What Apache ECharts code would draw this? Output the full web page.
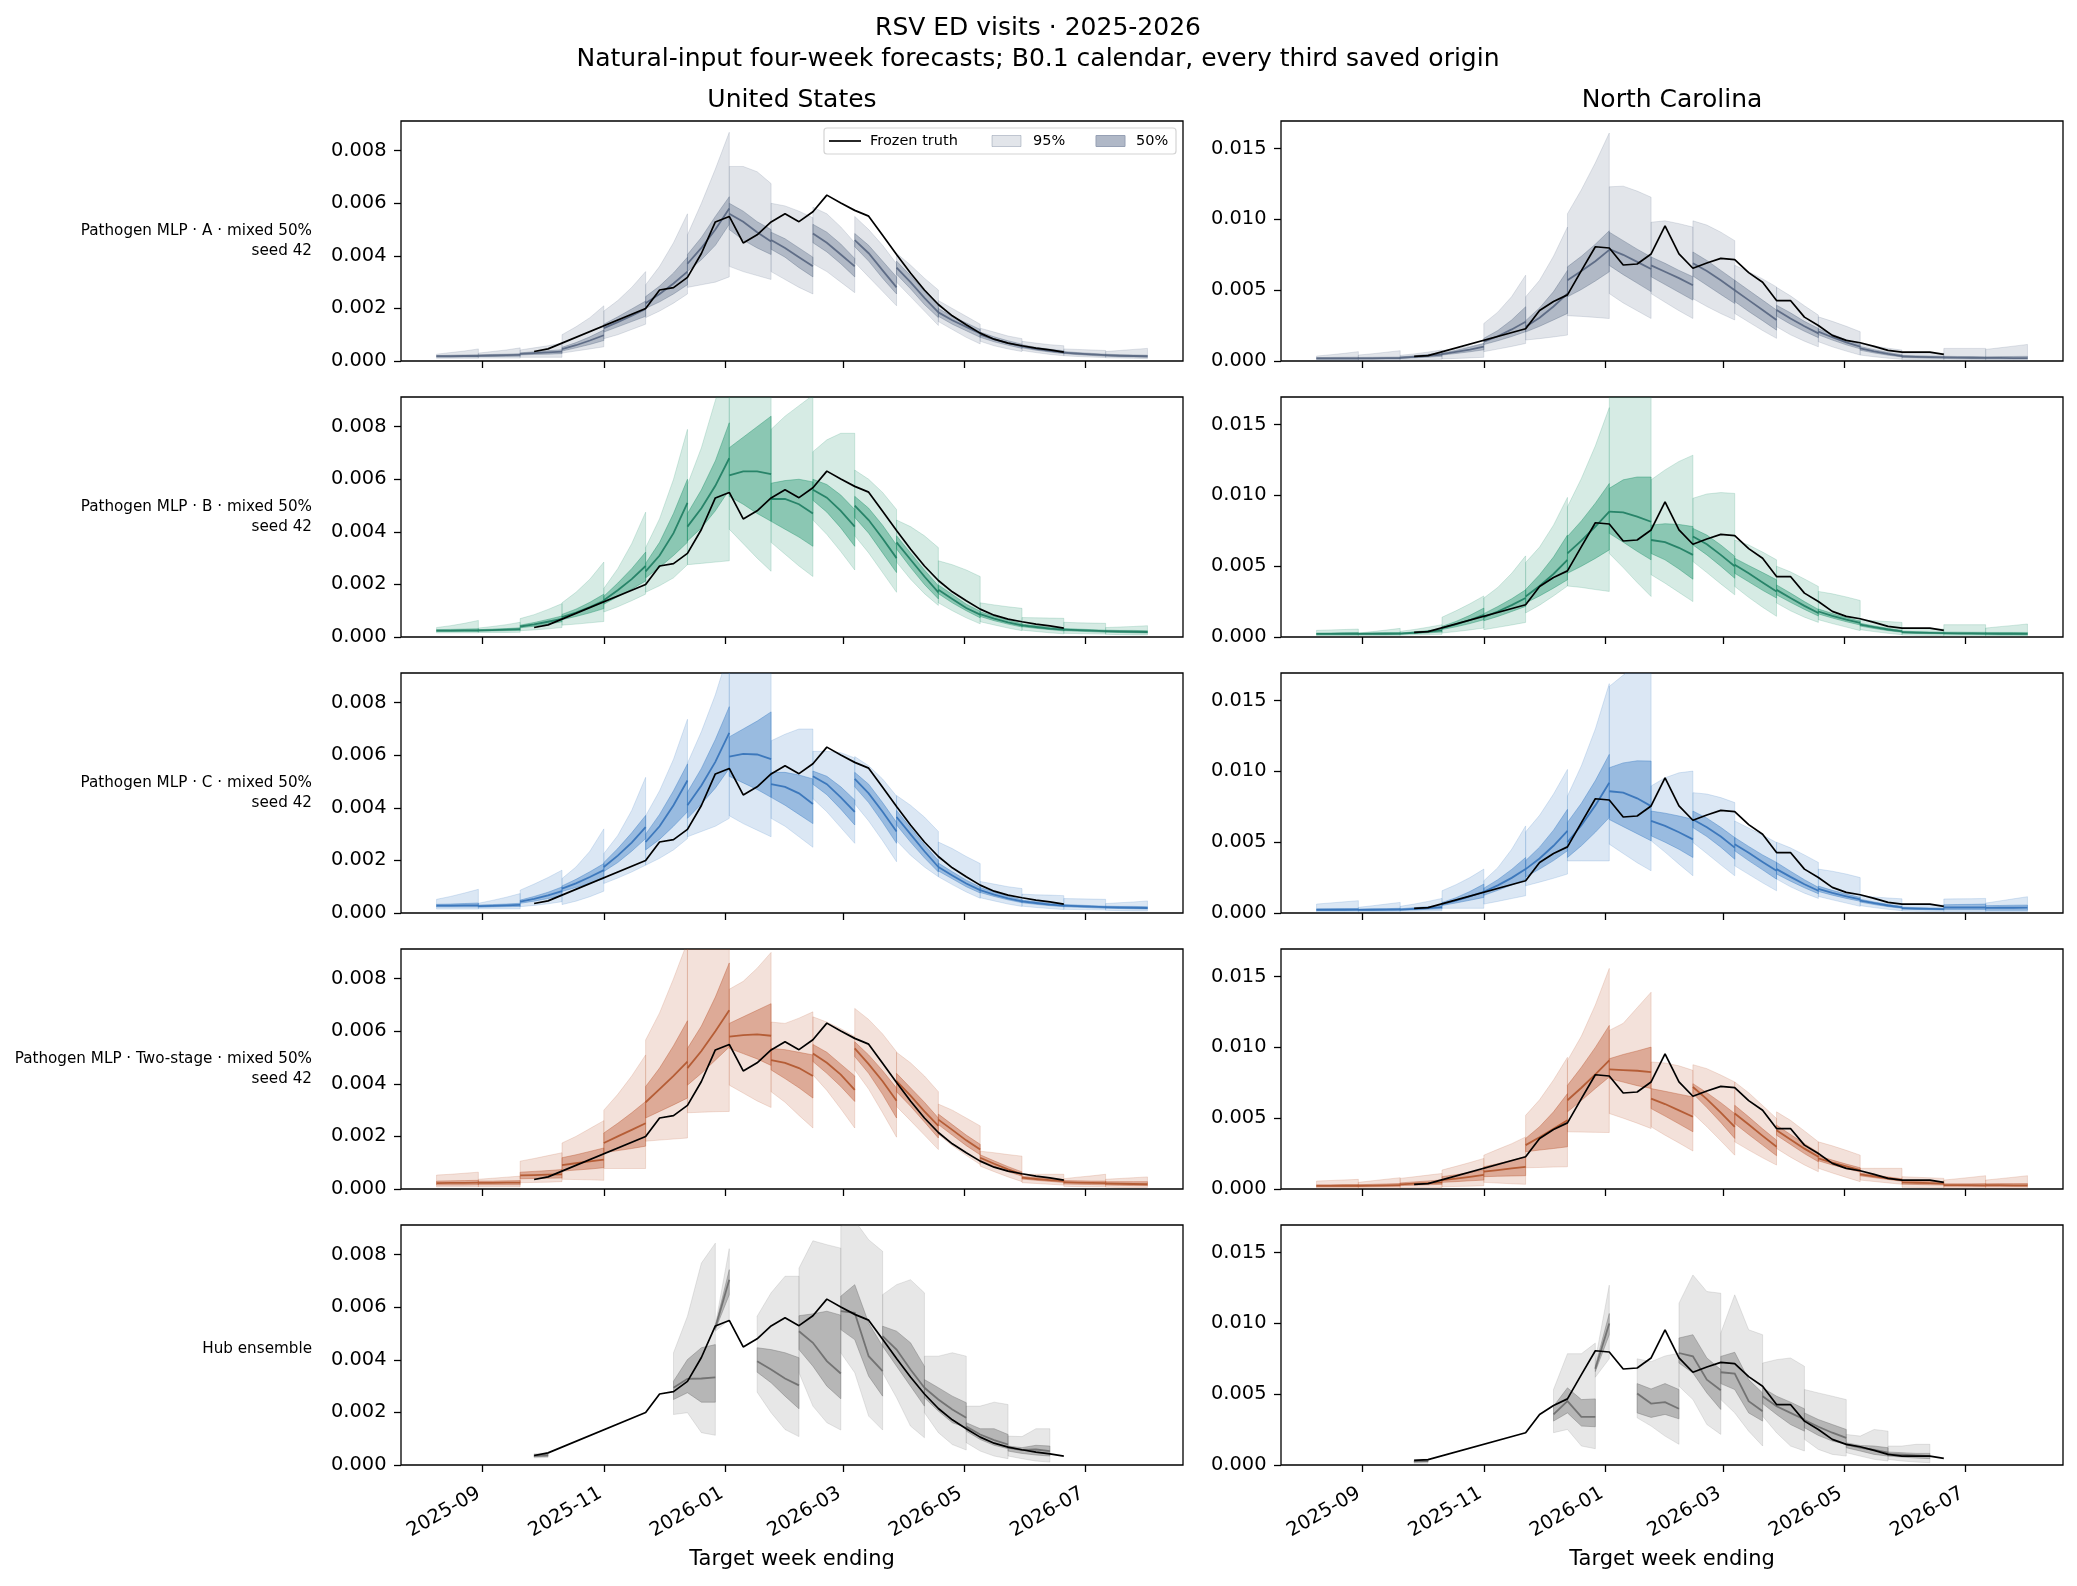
<!DOCTYPE html>
<html>
<head>
<meta charset="utf-8">
<title>RSV ED visits · 2025-2026</title>
<script src="https://cdn.jsdelivr.net/npm/echarts@6/dist/echarts.min.js"></script>
<style>
  html, body { margin: 0; padding: 0; background: #fff; }
  #chart { width: 2077px; height: 1586px; }
</style>
</head>
<body>
<div id="chart"></div>
<script>
// values are stored in units of 1e-4 (rate per visit), the y labels convert back

// week 0 of the forecast calendar (a Saturday)
const calendarStart = '2025-08-09';
const xTickLabels = ['2025-09', '2025-11', '2026-01', '2026-03', '2026-05', '2026-07'];
const usTicks = [0, 20, 40, 60, 80];
const ncTicks = [0, 50, 100, 150];
const usMax = 91.3;
const ncMax = 169.5;

// frozen truth
const truthWeeks = [7, 8, 15, 16, 17, 18, 19, 20, 21, 22, 23, 24, 25, 26, 27, 28, 29, 30, 31, 32, 33,
  34, 35, 36, 37, 38, 39, 40, 41, 42, 43, 44, 45];
const usTruth = [3.6, 4.6, 20, 27, 27.9, 31.8, 40.9, 52.9, 55, 44.9, 48, 52.9, 56, 53, 56.8, 63.1, 60.1,
  57.3, 55.1, 47.8, 40.5, 33.5, 27, 21.5, 17.2, 13.8, 10.6, 8.3, 6.8, 5.8, 4.9, 4.2, 3.4];
const ncTruth = [3.3, 3.8, 22.8, 35.7, 42, 46.7, 63.8, 80.7, 79.8, 67.8, 68.5, 75.6, 95.5, 75.6, 65.5, 69.2,
  72.5, 71.6, 62.4, 55.6, 42.7, 42.7, 31, 25.1, 18.1, 14.6, 12.9, 10.3, 7.5, 6.3, 6.3, 6.3, 4.7];

// forecast origins (week index) and number of target weeks per forecast
const modelOrigins = [0, 3, 6, 9, 12, 15, 18, 21, 24, 27, 30, 33, 36, 39, 42, 45, 48];
const modelSteps = [4, 4, 4, 4, 4, 4, 4, 4, 4, 4, 4, 4, 4, 4, 4, 4, 4];
const hubOrigins = [7, 17, 20, 23, 26, 29, 32, 35, 38, 41];
const hubSteps = [2, 4, 2, 4, 4, 4, 4, 4, 4, 4];

// ---- United States, model A
const usA_med = [1.8,1.8,1.9,1.9, 2.0,2.1,2.2,2.3, 2.7,3.0,3.3,3.6, 4.5,6.0,7.8,9.8, 12.5,14.8,17.2,19.8,
  22,25.5,29.5,34, 37,43,50,58, 56,53,49,45.5, 46,43,39.5,36, 48.5,45,40.5,36, 46,41,34.5,28,
  35.5,30,24,18.5, 18.5,15.5,13,10.5, 10,8.2,6.8,5.6, 5.6,4.6,3.9,3.3, 3.2,2.8,2.5,2.2, 2.2,2.0,1.9,1.8];
const usA_lo50 = [1.5,1.5,1.5,1.5, 1.7,1.7,1.7,1.8, 2.3,2.5,2.6,2.8, 3.8,5.0,6.3,7.8, 11,13,15,17,
  20,22.5,25.5,29, 34,38.5,44,52, 50,46,43,40.5, 42.5,39.5,35.5,32, 45,41.5,37,32, 43.5,38,31.5,25.5,
  33,27.5,21.5,16.5, 17,14,11.5,9, 9,7.3,6,4.8, 5,4.1,3.4,2.8, 2.8,2.4,2.1,1.8, 1.8,1.6,1.5,1.4];
const usA_hi50 = [2.1,2.2,2.3,2.4, 2.3,2.5,2.6,2.8, 3.1,3.5,3.9,4.3, 5.2,7.0,9.2,11.8, 14,16.8,19.8,22.8,
  24.5,28.5,33.5,39.5, 40.5,47,55,62.5, 60,57,53,50, 49,46.5,43,39.5, 52,49,44.5,39, 48.5,44,38,32,
  38,32.5,26.5,21, 20,17,14.5,12, 11,9.2,7.7,6.4, 6.2,5.2,4.5,3.9, 3.6,3.2,2.9,2.6, 2.6,2.4,2.3,2.2];
const usA_lo95 = [1.0,1.0,1.0,1.0, 1.1,1.1,1.1,1.1, 1.4,1.4,1.4,1.4, 3,3.8,4.6,5.4, 8.5,10,12,14,
  16.5,19,22,25.5, 28,29,30,32, 36,34,32.5,31, 34,31,28,25.5, 37,34,30,26, 37.5,32,26.5,21,
  30,24.5,19,13.5, 15,12,9,6.5, 7.5,5.8,4.6,3.6, 4,3.2,2.5,2, 2,1.7,1.5,1.3, 1.2,1.1,1.0,0.9];
const usA_hi95 = [2.6,3.2,3.8,4.6, 3.0,3.6,4.2,5.0, 4.2,5.0,5.8,6.8, 10,13,16.5,21, 19,23,28,34,
  29,36,45,56, 48,60,73,87, 74,74,72,67.5, 60,59,57,54.5, 58.5,56,51,45, 55,50,44,37,
  41,36.5,31.5,27, 23,20,17,14, 12.5,11,9.5,8.5, 7.5,6.8,6.2,5.8, 4.6,4.4,4.2,4.0, 3.6,4.0,4.4,4.8];

// ---- United States, model B
const usB_med = [2.4,2.4,2.5,2.5, 2.5,2.6,2.8,3.0, 4.0,4.8,5.8,6.9, 7.6,9.3,11.4,13.8, 14,17.8,22,27,
  25,31,39.5,51, 42,49,57.5,68, 61.5,63,63,62, 52.5,52.5,50.5,47, 56,53,48,42, 50,44.5,37.5,30,
  36,29.5,23,17, 18,14.5,11,8.5, 8.7,7,5.6,4.4, 4.4,3.8,3.2,2.8, 2.8,2.6,2.4,2.2, 2.2,2.1,2.0,1.9];
const usB_lo50 = [2.1,2.1,2.1,2.1, 2.2,2.3,2.4,2.5, 3.5,4.1,4.9,5.8, 6.6,7.8,9.2,10.8, 12.5,15.3,18.2,21.3,
  22.5,26.5,31,36, 36.5,41.5,48,56, 53.5,50.5,47,44, 44,41,38,34.5, 52,47.5,41.5,34.5, 45.5,39.5,32,24.5,
  33.5,26.5,20,14.5, 16.5,13,10,7.3, 7.8,6.2,4.9,3.8, 3.9,3.3,2.8,2.3, 2.4,2.2,2.0,1.8, 1.8,1.7,1.6,1.5];
const usB_hi50 = [2.8,2.9,3.0,3.1, 2.8,3.0,3.2,3.5, 4.5,5.5,6.7,8.0, 8.6,10.6,13.2,16.3, 15.5,20.5,26,32.3,
  28,36,47,60, 47,56,67,81.5, 72,76,80,84, 58.5,59.5,60,59, 60,58,54,48.5, 53.5,49,42.5,35,
  38.5,32,25.5,19.5, 19.8,16.2,12.5,9.8, 9.6,7.9,6.4,5.1, 4.9,4.3,3.7,3.3, 3.2,3.0,2.8,2.6, 2.6,2.5,2.5,2.4];
const usB_lo95 = [1.6,1.6,1.6,1.6, 1.7,1.7,1.7,1.8, 2.4,2.7,3.1,3.6, 4.5,4.9,5.4,5.9, 9.5,11.5,13.8,16.3,
  17,19.5,22.5,27.5, 27.5,28,28.5,29, 41,35.5,30,25, 36,31.5,27,23, 44.5,39,32.5,25.5, 38.5,32,24.5,17,
  28.5,22,16.5,12, 13,10,7.3,5, 5.8,4.6,3.4,2.4, 2.6,2.1,1.6,1.2, 1.4,1.3,1.2,1.1, 1.0,0.9,0.8,0.8];
const usB_hi95 = [3.6,4.3,5.2,6.3, 3.4,4.0,4.7,5.6, 7,8.5,10.5,12.7, 13,17,22,28.5, 18.5,26,35.5,47.5,
  34,45,60,79, 58,72,90,108, 100,106,112,118, 79,84,88,92, 70.5,75,77.5,77.5, 63.5,60,55,48.5,
  44.5,42,38.5,34, 29,27.5,25.5,23, 13,12.2,11.5,10.9, 7.4,7.3,7.2,7.1, 5.6,5.4,5.3,5.2, 3.6,3.8,4.0,4.3];

// ---- United States, model C
const usC_med = [2.8,2.8,2.9,2.9, 2.6,2.7,2.9,3.1, 4.3,5.4,6.7,8.3, 9.3,11.3,13.7,16.3, 17.5,21.8,26.8,32.7,
  27,33,41,50.4, 41,48.5,57.5,68.5, 59.5,60.5,60.3,58.5, 49,48,45.5,41.5, 52,49,44,38.5, 51,45.5,38.5,31,
  36.5,30,23.5,17.5, 17.5,14.3,11.2,8.7, 8.7,7,5.6,4.4, 4.4,3.8,3.2,2.8, 2.8,2.6,2.4,2.2, 2.2,2.1,2.0,1.9];
const usC_lo50 = [2.3,2.3,2.3,2.3, 2.2,2.3,2.4,2.5, 3.7,4.5,5.5,6.6, 8.2,9.7,11.3,13.1, 15.8,19.2,23.5,28.3,
  24,28,33,38.5, 36,41.5,47.5,55, 52,49.5,47,44, 44,41,37.5,34, 49,45,39.5,33.5, 48,42,34.5,26.5,
  33.5,27,21,15.6, 16,13,10,7.6, 7.8,6.3,5,3.9, 3.9,3.3,2.8,2.4, 2.4,2.2,2.0,1.8, 1.8,1.7,1.6,1.5];
const usC_hi50 = [3.3,3.4,3.6,3.8, 3.0,3.2,3.4,3.7, 4.9,6.3,7.9,9.9, 10.3,12.8,15.7,18.8, 19.2,24.5,30.5,37.1,
  30,37.5,46.5,56.7, 46,55,66,78.5, 67,70,73,76.5, 53.5,53.5,52.5,51, 54,52,48,43, 53.5,49,42,34.5,
  39,32.5,26,20, 19,15.7,12.5,9.9, 9.7,8,6.4,5.1, 4.9,4.3,3.7,3.3, 3.2,3.0,2.8,2.6, 2.6,2.5,2.5,2.4];
const usC_lo95 = [1.5,1.5,1.5,1.5, 1.6,1.6,1.6,1.6, 2.4,2.9,3.5,4.3, 3.2,4.5,6.2,8.3, 11.2,13.3,15.6,18.2,
  18.2,20.8,24,28.3, 29,31,33,36, 37,34,31.5,29, 36,33,29,25, 43.5,38.5,32.5,26.5, 41.5,35,27.5,19.5,
  27.5,22,17.5,13.8, 13.8,10.8,8,5.6, 5.8,4.6,3.4,2.5, 2.6,2.1,1.7,1.3, 1.4,1.3,1.2,1.1, 1.0,0.9,0.8,0.8];
const usC_hi95 = [5.2,6.3,7.6,9.0, 3.7,4.8,6,7.4, 8.7,11,13.5,16.3, 13.1,17.5,23.5,32, 22.6,29.5,39,51.6,
  37,46.5,58.5,73.7, 57,69,83,100, 95,100,104,108, 65.5,68,70,70, 61.5,61.5,61,59, 59.5,56,51,44.5,
  44.7,41,36.5,31, 27,24.5,21.5,18.8, 12,11,10,9.3, 7.2,6.9,6.8,6.6, 5.5,5.4,5.3,5.2, 3.6,3.9,4.2,4.6];

// ---- United States, two-stage model
const usT_med = [2.2,2.3,2.3,2.4, 2.3,2.3,2.4,2.4, 5.2,5.3,5.5,5.6, 9.1,9.8,10.5,11.2, 17.5,20,22.5,25,
  33,38,43,48.5, 46,52.5,60,68, 58,58.5,58.8,58.3, 49,48,46,43, 51.5,48,43.5,37.7, 53.5,47.5,41,33.6,
  41,35.5,29.5,24, 26.4,22.5,18.5,15, 11.9,9.6,7.5,5.6, 4.3,3.8,3.4,3.0, 2.6,2.4,2.3,2.2, 2.1,2.0,1.9,1.8];
const usT_lo50 = [1.5,1.5,1.5,1.6, 1.6,1.6,1.6,1.6, 3.9,4.0,4.1,4.2, 6.8,7.2,7.6,8.1, 13.8,14.6,15.4,16.3,
  27,29.5,32,34.6, 39.5,44,49,54, 53.5,51.5,49.5,47, 45.3,42,38.5,34.6, 48.5,44,39,33.3, 50.4,44,36,27,
  37,31.5,25.5,19.4, 24.5,20.5,16.5,13, 10.8,8.6,6.6,4.9, 3.8,3.3,2.9,2.5, 1.9,1.8,1.7,1.6, 1.5,1.4,1.3,1.3];
const usT_hi50 = [3.0,3.1,3.2,3.3, 3.0,3.0,3.1,3.2, 6.4,6.7,7.0,7.4, 11.9,13,14.3,15.6, 21.3,25,29,33.3,
  39,46,54.5,64, 53.5,62,73,86, 63,65.5,68,70.5, 53.5,53,52,51, 55,52,47.5,43, 56,51,45,38.4,
  44,38.5,33,27, 28.5,24.5,20.5,17, 13,10.7,8.5,6.5, 4.8,4.4,4.0,3.6, 3.2,3.1,3.0,3.0, 2.8,2.8,2.8,2.8];
const usT_lo95 = [0.8,0.8,0.8,0.8, 0.8,0.8,0.8,0.8, 2.4,2.5,2.6,2.8, 3.7,3.6,3.5,3.3, 7.8,7.8,7.8,7.8,
  18.2,18.6,19,19.4, 29,29.2,29.4,29.5, 39.5,36.5,33.5,31, 37,33,28,23.2, 43.4,37.5,30.5,23.2, 45.3,38,29,19.7,
  31.4,26,20.5,15, 20.7,16.5,12.8,9.3, 8.7,6.6,4.6,2.8, 2.4,2.1,1.8,1.5, 1.0,0.9,0.8,0.8, 0.7,0.6,0.6,0.6];
const usT_hi95 = [5.3,5.6,6.0,6.4, 3.7,4.1,4.5,4.9, 10.6,11.6,12.7,13.8, 17.5,20,23,26, 30,36,43,51,
  56.7,67,80,94, 91,95,100,105, 76,79,84,90, 63.5,63,65,67.4, 65.5,63.5,61,58, 68.7,64.5,59,52.2,
  52,48,43,37, 32.3,30,27,24, 14.4,13.8,13.1,12.5, 5.6,5.6,5.6,5.6, 3.9,4.5,5.0,5.6, 3.7,4.0,4.3,4.6];

// ---- United States, hub ensemble
const usH_med = [3.5,3.7, 29.4,32.8,32.9,33.3, 52.2,70.5, 39.5,36.3,32.9,30.3, 50.9,46.5,39.5,34.8,
  58.5,57.9,41.4,35.7, 49.0,43.9,36.3,29.4, 29.4,24.9,21.1,18, 14.6,11.6,9.5,7.8, 6.6,5.7,5.9,5.3];
const usH_lo50 = [3.1,3.3, 24.9,27.5,23.9,23.9, 51.5,64.8, 35.3,31.3,26.2,21.4, 43.9,37.6,30,25.2,
  51.5,47.7,33.8,26.2, 45.2,37.6,30.0,22.4, 25.6,20.5,16.1,14.2, 12.9,9.7,7.5,6.2, 5.3,4.4,3.8,3.4];
const usH_hi50 = [3.9,4.1, 31.9,40.1,44.6,45.8, 52.8,74.3, 44.6,43.9,42.7,40.8, 56.8,57.5,58.5,57,
  64.2,68.6,54,45.2, 52.8,50.9,46.5,37.6, 32.5,29.4,26.2,23.7, 16.1,13.8,13.8,11.6, 7.2,6.6,7.5,7.2];
const usH_lo95 = [2.7,2.9, 19.2,19.9,12.3,11.3, 50.9,55.3, 27.7,19.9,13.5,10.8, 35.1,22.4,16.1,13.3,
  42.7,35.1,18.6,13.3, 35.1,25.6,14.8,10.4, 19.9,12.3,7.8,5.7, 8.5,5.3,3.4,2.4, 3.4,2.4,1.5,1.1];
const usH_hi95 = [4.3,4.6, 42.7,56.6,76.8,84.4, 53.4,82.3, 56.6,65.5,71.8,71.8, 74.9,85.3,83.8,82.5,
  90.8,93,85.7,81.3, 64.8,68.6,70.5,65.5, 41.4,41.4,42.7,41.4, 22.4,22.4,23.9,23, 11,10.8,13.8,13.8];

// ---- North Carolina, model A
const ncA_med = [1.8,1.8,1.9,1.9, 1.9,1.9,2.0,2.0, 2.3,2.9,3.7,4.6, 4.9,6.4,8.1,10.1, 13.6,17.5,22.3,27.7,
  24.2,30.5,38.5,47.6, 57,63.5,70.5,78.5, 79,75,70,65, 67.5,63,58.5,53.5, 69,63.5,57,50, 50,43,36,29,
  36,30,24.5,19.5, 20.7,16.8,13.2,10.1, 8.9,6.8,5,3.5, 3.2,2.9,2.7,2.5, 2.5,2.4,2.3,2.2, 2.2,2.2,2.1,2.1];
const ncA_lo50 = [1.3,1.3,1.3,1.3, 1.4,1.4,1.4,1.4, 1.8,2.2,2.7,3.3, 4.2,5.3,6.5,7.9, 11.6,14.3,17.3,20.7,
  20.5,24.5,29,33.6, 45.3,50.5,56.5,63, 67.5,61,55,49, 59.5,54,48.5,43, 60,53.5,47,40.6, 42,35,28.5,21.8,
  31.7,26,21,16.5, 18.5,14.8,11.4,8.6, 7.6,5.7,4.1,2.8, 2.4,2.2,2.0,1.9, 1.8,1.7,1.6,1.5, 1.5,1.5,1.4,1.4];
const ncA_hi50 = [2.4,2.5,2.6,2.7, 2.5,2.6,2.7,2.8, 2.9,3.7,4.7,5.9, 5.7,7.5,9.8,12.4, 16,21.5,29,38.3,
  28.5,37.5,49,64, 66.5,74,82.5,92, 91,85,79,73.5, 73.5,69,64,59.5, 77,71,64,57, 57,50,43,36,
  39.4,34,28,23, 22.8,18.8,15,11.7, 10.2,8,6,4.4, 4.0,3.7,3.5,3.3, 3.3,3.2,3.1,3.0, 3.0,3.1,3.2,3.3];
const ncA_lo95 = [0.6,0.6,0.6,0.6, 0.6,0.6,0.6,0.6, 0.9,1.0,1.1,1.3, 1.5,1.8,2.2,2.6, 6.6,8.4,10.3,12.4,
  14.8,15.8,17,18.3, 32,31.5,30.8,30, 47.6,41,35.5,30, 47.6,41.5,35.5,30, 44,38.5,33.5,29, 33.6,27.5,21.5,16,
  24.2,18.5,14,10, 13.6,10,7,4.2, 4.2,3,2,1.2, 1.0,0.9,0.8,0.8, 0.8,0.7,0.7,0.7, 0.6,0.6,0.6,0.6];
const ncA_hi95 = [3.5,4.4,5.4,6.6, 4.2,5.1,6.2,7.3, 4.0,5.0,6.3,7.8, 7.3,8.8,10.5,12.4, 26.5,34.5,45.5,60.6,
  45.3,57,74,94.6, 104,121,140,161, 123,123.5,120,115.7, 98,99,97,94.6, 99,96,91,85, 67.6,63,58,52.3,
  52,46,39,32.4, 31.2,28,24.5,20.7, 12.4,10.6,9,7.7, 5.4,5.4,5.4,5.4, 8.9,8.9,8.9,8.9, 8.2,9.3,10.5,11.7];

// ---- North Carolina, model B
const ncB_med = [2.2,2.2,2.3,2.3, 2.2,2.3,2.3,2.4, 2.4,3.0,3.8,4.7, 6.3,8.9,12,15.7, 14,18,22.5,27.5,
  28.6,36,44.5,54.5, 59,68,78,88.5, 88.5,88,85,81.4, 68.5,67,63,58, 71,65.5,58,50, 51,45,38.5,32.2,
  33.3,27.5,22,16.9, 18,15,12.3,9.9, 8.7,6.9,5.3,4.0, 3.4,3.1,2.9,2.7, 2.7,2.6,2.5,2.4, 2.4,2.3,2.3,2.2];
const ncB_lo50 = [1.6,1.6,1.6,1.6, 1.7,1.7,1.7,1.8, 2.0,2.4,2.9,3.5, 5.3,7.2,9.5,12.2, 11.5,14.5,18,21.6,
  24,29,34.5,40.4, 45,50,55.5,61.5, 73.2,67,60.5,54.5, 59,54.5,48,40.8, 65,58,50,41.5, 45,39,33,27.5,
  29.8,24.5,19.5,14.8, 16.3,13.4,10.8,8.5, 7.7,6.0,4.5,3.3, 2.7,2.5,2.3,2.1, 2.0,1.9,1.8,1.7, 1.7,1.6,1.6,1.5];
const ncB_hi50 = [2.8,2.9,3.0,3.1, 2.8,2.9,3.1,3.2, 2.9,3.6,4.6,5.8, 7.5,11,15.3,20.4, 16.5,21.5,27,33.3,
  33.5,44,56.5,72, 71,82,94.5,108.4, 105,111,113,113, 79,80,79.5,78, 76.7,72,65,57, 55.6,50.5,45.5,40.4,
  36.8,31,25,19.5, 19.8,16.6,13.7,11.3, 9.7,7.8,6.1,4.7, 4.1,3.8,3.6,3.4, 3.4,3.4,3.3,3.3, 3.2,3.2,3.2,3.2];
const ncB_lo95 = [0.9,0.9,0.9,0.9, 1.0,1.0,1.0,1.0, 1.3,1.5,1.7,1.9, 2.8,3.8,5,6.3, 5.2,6.8,8.5,10.3,
  17,22.5,29,36, 36,35,33.5,32.2, 59,49,38.5,28.6, 44,38,31.5,25, 53.3,45.5,37.5,29.8, 35.7,28,21,14.6,
  24,18.5,14,10.3, 12.2,9.5,7,4.5, 5.2,3.8,2.6,1.6, 1.4,1.2,1.1,1.0, 0.8,0.8,0.8,0.8, 0.7,0.7,0.7,0.7];
const ncB_hi95 = [4.7,5.0,5.3,5.6, 2.8,3.8,4.9,6.1, 4.0,5.3,6.9,8.7, 14,18.5,23.5,29, 27.5,35,45,57.3,
  52.6,63.5,79,98.6, 92,112,135,162, 175,185,190,195, 111,118,124,128.4, 98,101,102,101.4, 68.5,65,60,54.5,
  50,46,41,35.7, 32.2,30.5,28.3,25.8, 12.2,11.5,10.9,10.3, 6.3,6.1,5.8,5.6, 8.7,8.7,8.7,8.7, 6.3,7.3,8.2,9.2];

// ---- North Carolina, model C
const ncC_med = [2.3,2.3,2.3,2.4, 2.2,2.3,2.4,2.5, 2.4,2.9,3.5,4.2, 6.3,8.8,11.7,15, 15,19.5,24.8,31,
  31,38.5,47.5,58, 50,62,76,92, 86,85,81,75.5, 65,61.5,57,52, 66,60.5,54,46.2, 48.6,42.5,36,29.8,
  31,25.5,20.3,15.7, 17,14.2,11.8,9.6, 8.7,6.9,5.3,4.0, 3.4,3.1,2.9,2.7, 3.9,3.9,3.9,3.9, 3.6,3.7,3.7,3.8];
const ncC_lo50 = [1.7,1.7,1.7,1.7, 1.7,1.7,1.7,1.8, 1.9,2.2,2.6,3.0, 5.3,7.1,9,11, 12.5,16,19.8,23.9,
  25.5,31,37,43.9, 39.2,47.5,57,67.4, 66,61,56,51, 54.5,50,45,39.2, 60.3,54,46.5,38, 43.9,37,30.5,23.9,
  27.5,22.5,17.8,13.6, 15.2,12.6,10.3,8.3, 7.7,6.0,4.5,3.3, 2.7,2.5,2.3,2.1, 2.3,2.3,2.3,2.3, 1.9,1.9,1.9,1.9];
const ncC_hi50 = [2.9,3.0,3.1,3.2, 2.8,3.0,3.1,3.3, 3.0,3.7,4.5,5.5, 7.4,10.8,15.2,20.4, 17.5,23.5,30.8,39.2,
  37,46.5,58.5,73.2, 64,77.5,93.5,112, 102.6,106,107.5,107.3, 72,70.5,68.5,66.2, 72,67,60.5,53.3, 53.3,47,41,35.7,
  35.7,29.5,23.5,18.1, 19,16,13.4,11, 9.7,7.8,6.1,4.7, 4.1,3.8,3.6,3.4, 5.8,6.0,6.1,6.3, 5.2,5.3,5.5,5.6];
const ncC_lo95 = [0.8,0.8,0.8,0.8, 0.9,0.9,0.9,0.9, 1.2,1.3,1.4,1.6, 3.3,3.3,3.3,3.3, 6.3,8.2,10.2,12.2,
  19.2,21.8,24.5,27.5, 36.8,36.8,36.8,36.8, 48.6,42,35.5,29.8, 51,43,34.5,26.3, 49.8,42,34,26.3, 33.3,27.3,21.3,15.7,
  24,18.5,14,10.3, 11.7,9.3,7,4.7, 5.2,3.8,2.6,1.6, 1.4,1.2,1.1,1.0, 0.9,0.9,0.9,0.9, 0.9,0.9,0.9,0.9];
const ncC_hi95 = [6.3,7.1,7.9,8.7, 4.0,5.1,6.3,7.5, 4.7,6.3,8.2,10.3, 15.7,20,25,31, 22.8,32,45,61.5,
  57.3,69,84,101.4, 82.6,104,130,162, 160,168,175,180, 89.7,95.5,99,100.2, 85,84,81.5,78, 65,60,55,49.8,
  50,46,41,35.7, 31,29.5,27.5,25, 12.2,11.3,10.6,10, 6.3,6.1,5.8,5.6, 9.9,10,10.1,10.3, 7.0,8.5,10,11.5];

// ---- North Carolina, two-stage model
const ncT_med = [2.2,2.2,2.3,2.3, 2.3,2.4,2.6,2.8, 3.3,3.8,4.2,4.7, 6.3,7.4,8.6,9.9, 12.2,13.4,14.5,15.7,
  31,36.5,42.5,48.6, 62.7,71.5,81,90.8, 84.5,84,83.5,82.6, 63.8,60,55.5,51, 72,63.5,54,43.9, 53.3,45.5,37.5,29.8,
  41.5,35,28.5,22.8, 21.6,18.6,15.9,13.4, 10.3,8.9,7.6,6.3, 4.7,4.4,4.1,3.8, 2.8,2.7,2.7,2.6, 2.7,2.7,2.6,2.6];
const ncT_lo50 = [1.5,1.5,1.5,1.5, 1.6,1.7,1.8,1.9, 2.4,2.7,3.0,3.3, 4.7,5.2,5.8,6.3, 8.7,9,9.2,9.4,
  26.3,27.5,28.6,29.8, 54.5,62.5,71,79.1, 78,75.5,73,71, 56.8,51.5,46,40.4, 67.4,57.5,47,35.7, 46.2,38.5,31,23.5,
  38,31.5,25,19.2, 19.9,17,14.4,12, 9.3,8,6.7,5.5, 3.4,3.2,3.0,2.8, 1.9,1.9,1.8,1.8, 1.8,1.8,1.8,1.8];
const ncT_hi50 = [3.0,3.0,3.1,3.1, 3.0,3.3,3.6,3.9, 4.3,5.0,5.7,6.4, 8.7,10.1,11.7,13.4, 15.7,17.9,20.3,22.8,
  35.7,44,54.5,67.4, 73.2,86,100,115.5, 92,95,97.5,100.2, 70.9,69,67,65, 74.4,68,61,53.3, 59.1,51,42.5,34.5,
  45.1,38.5,32,25.8, 23.4,20.4,17.6,15, 11.3,9.9,8.5,7.2, 5.9,5.6,5.3,5.0, 3.7,3.7,3.7,3.8, 3.7,3.8,3.8,3.9];
const ncT_lo95 = [0.6,0.6,0.6,0.6, 0.7,0.7,0.7,0.7, 1.0,1.0,1.1,1.1, 1.6,1.8,2.0,2.3, 4.7,4.2,3.7,3.3,
  15,15.2,15.5,15.7, 40.4,40.2,40,39.9, 53.3,50,46.5,42.7, 43.9,38,32.5,26.8, 53.3,44,34,23.9, 33.3,27.5,22,16.9,
  28.6,22.5,17,12.2, 14.6,11.3,8.2,5.2, 6.3,5.3,4.3,3.3, 1.2,1.1,1.0,0.9, 0.7,0.7,0.7,0.7, 0.6,0.6,0.6,0.6];
const ncT_hi95 = [5.6,6.0,6.4,6.8, 4.7,5.8,6.9,8.0, 7.5,8.6,9.8,11, 13.4,16,18.7,21.6, 23.9,28,32,36.8,
  52,63,77,93, 90.8,108,130,155.8, 112,117,128,139, 89.7,89,87,83.8, 87.8,85,80.5,75.6, 75.6,68,59,49.8,
  54.5,48.5,41,33.3, 33.3,30.5,27.3,23.9, 14.6,14.6,14.6,14.6, 8.7,8.3,7.9,7.5, 6.3,7.3,8.3,9.4, 6.3,7.3,8.3,9.4];

// ---- North Carolina, hub ensemble
const ncH_med = [2.5,2.8, 35.7,45.1,34,34, 68,100, 50.5,43.4,44.4,39.7, 79.1,76.7,60.3,52.8,
  65.5,64.5,45.1,38, 48.6,41.5,36.8,32.1, 31.7,27,22.8,19.2, 14.6,12.2,10.6,8.7, 7.7,7.3,6.8,6.3];
const ncH_lo50 = [2.0,2.2, 31,36.8,27.5,27, 66,92, 36.8,33.6,35.7,32.6, 72,65,50.9,39.2,
  57.5,53.3,36.8,31, 43.4,35.7,28.6,23.9, 26.3,20.9,16.9,14.6, 12.2,9.9,7.5,6.3, 6.3,5.6,4.9,4.5];
const ncH_hi50 = [3.0,3.4, 41.5,54.5,46.2,46.7, 70,107, 57.5,53.7,57.5,53.3, 89.7,92,75.6,67.4,
  76.7,79.6,60.3,50.9, 54.5,48.6,44.4,39.7, 36.8,32.1,28.6,25.1, 15.7,13.8,13.4,12.2, 9.2,8.7,8.2,8.2];
const ncH_lo95 = [1.2,1.3, 22.8,25.1,13.4,11.5, 62,75, 33.3,27.5,20.4,14.6, 55.6,46.2,28.6,21.6,
  46.2,36.8,23.9,13.4, 34.5,22.8,13.4,9.9, 18.1,11,7.5,6.3, 8.7,6.3,4,2.8, 4,2.8,2.1,1.6];
const ncH_hi95 = [3.8,4.2, 53.3,78.6,78.6,86.1, 74,127, 75,73,77,79, 114.3,134.2,122.5,121.3,
  93.2,120.2,95.5,92, 72,74.4,75.6,69.7, 53.3,50.9,48.6,46.2, 21.6,20.4,25.1,23.9, 13.4,13.4,14.6,14.6];

// ---------------------------------------------------------------------------
const FONT = '"DejaVu Sans", sans-serif';
const TICK_FONT = 19.4;
const DAY = 86400000;
const t0 = Date.parse(calendarStart + 'T00:00:00Z');
const weekTime = w => t0 + w * 7 * DAY;
const xTickTimes = xTickLabels.map(s => Date.UTC(+s.slice(0, 4), +s.slice(5, 7) - 1, 1));

// matplotlib-like 5% margins round the forecast weeks
const lastWeek = Math.max(...modelOrigins.map((w, i) => w + modelSteps[i] - 1));
const span = weekTime(lastWeek) - weekTime(0);
const xMin = weekTime(0) - 0.05 * span;
const xMax = weekTime(lastWeek) + 0.05 * span;

const colLeft = [401, 1281];
const rowTop = [121, 397, 673, 949, 1225];
const PW = 782, PH = 240;

const rows = [
  { label: ['Pathogen MLP · A · mixed 50%', 'seed 42'], color: [76, 92, 122], line: '#56657f', a95: 0.16, a50: 0.32,
    us: [usA_med, usA_lo50, usA_hi50, usA_lo95, usA_hi95], nc: [ncA_med, ncA_lo50, ncA_hi50, ncA_lo95, ncA_hi95] },
  { label: ['Pathogen MLP · B · mixed 50%', 'seed 42'], color: [27, 144, 105], line: '#1d7c61', a95: 0.18, a50: 0.4,
    us: [usB_med, usB_lo50, usB_hi50, usB_lo95, usB_hi95], nc: [ncB_med, ncB_lo50, ncB_hi50, ncB_lo95, ncB_hi95] },
  { label: ['Pathogen MLP · C · mixed 50%', 'seed 42'], color: [55, 122, 194], line: '#3371b8', a95: 0.18, a50: 0.4,
    us: [usC_med, usC_lo50, usC_hi50, usC_lo95, usC_hi95], nc: [ncC_med, ncC_lo50, ncC_hi50, ncC_lo95, ncC_hi95] },
  { label: ['Pathogen MLP · Two-stage · mixed 50%', 'seed 42'], color: [188, 88, 49], line: '#b0542b', a95: 0.18, a50: 0.4,
    us: [usT_med, usT_lo50, usT_hi50, usT_lo95, usT_hi95], nc: [ncT_med, ncT_lo50, ncT_hi50, ncT_lo95, ncT_hi95] },
  { label: ['Hub ensemble'], color: [110, 110, 110], line: '#6b6b6b', a95: 0.17, a50: 0.4, hub: true,
    us: [usH_med, usH_lo50, usH_hi50, usH_lo95, usH_hi95], nc: [ncH_med, ncH_lo50, ncH_hi50, ncH_lo95, ncH_hi95] }
];

function rgba(c, a) { return 'rgba(' + c.join(',') + ',' + a + ')'; }

const panels = [];
rows.forEach((r, ri) => {
  [0, 1].forEach(ci => {
    const q = ci === 0 ? r.us : r.nc;
    panels.push({
      row: ri, col: ci, color: r.color, line: r.line, a95: r.a95, a50: r.a50,
      med: q[0], lo50: q[1], hi50: q[2], lo95: q[3], hi95: q[4],
      origins: r.hub ? hubOrigins : modelOrigins,
      steps: r.hub ? hubSteps : modelSteps,
      ymax: ci === 0 ? usMax : ncMax,
      yTicks: ci === 0 ? usTicks : ncTicks,
      truth: ci === 0 ? usTruth : ncTruth
    });
  });
});

function makeRender(p) {
  const offsets = [];
  let acc = 0;
  p.steps.forEach(n => { offsets.push(acc); acc += n; });
  const f95 = rgba(p.color, p.a95), f50 = rgba(p.color, p.a50);
  return function (params, api) {
    const k = params.dataIndex, n = p.steps[k], o = offsets[k], w = p.origins[k];
    const pts = arr => {
      const out = [];
      for (let h = 0; h < n; h++) out.push(api.coord([weekTime(w + h), arr[o + h]]));
      return out;
    };
    return {
      type: 'group',
      children: [
        { type: 'polygon', shape: { points: pts(p.hi95).concat(pts(p.lo95).reverse()) },
          style: { fill: f95, stroke: f95, lineWidth: 1 } },
        { type: 'polygon', shape: { points: pts(p.hi50).concat(pts(p.lo50).reverse()) },
          style: { fill: f50, stroke: f50, lineWidth: 1 } },
        { type: 'polyline', shape: { points: pts(p.med) },
          style: { stroke: p.line, lineWidth: 1.8, fill: null, opacity: 0.9 } }
      ]
    };
  };
}

const grid = [], xAxis = [], yAxis = [], series = [];
panels.forEach((p, i) => {
  grid.push({ left: colLeft[p.col], top: rowTop[p.row], width: PW, height: PH,
    show: true, borderColor: '#000', borderWidth: 1.3, backgroundColor: 'rgba(0,0,0,0)' });
  // x is a numeric axis of timestamps so that the month ticks can be placed exactly
  xAxis.push({
    gridIndex: i, type: 'value', min: xMin, max: xMax,
    axisLine: { show: false }, splitLine: { show: false },
    axisTick: { show: true, customValues: xTickTimes, length: 7, lineStyle: { color: '#000', width: 1.3 } },
    axisLabel: {
      show: p.row === 4, customValues: xTickTimes, rotate: 30, margin: 25,
      padding: [0, 4, 0, 0],
      fontFamily: FONT, fontSize: TICK_FONT, color: '#000',
      formatter: v => xTickLabels[xTickTimes.indexOf(v)] || ''
    }
  });
  yAxis.push({
    gridIndex: i, type: 'value', min: 0, max: p.ymax,
    axisLine: { show: false }, splitLine: { show: false },
    axisTick: { show: true, customValues: p.yTicks, length: 7, lineStyle: { color: '#000', width: 1.3 } },
    axisLabel: {
      customValues: p.yTicks, margin: 14.5, fontFamily: FONT, fontSize: TICK_FONT, color: '#000',
      formatter: v => (v / 1e4).toFixed(3)
    }
  });
  series.push({
    type: 'custom', xAxisIndex: i, yAxisIndex: i, clip: true, z: 2,
    renderItem: makeRender(p),
    encode: { x: [0, 1], y: 2 },
    data: p.origins.map((w, k) => [weekTime(w), weekTime(w + p.steps[k] - 1), 0])
  });
  series.push({
    type: 'line', xAxisIndex: i, yAxisIndex: i, clip: true, z: 5,
    showSymbol: false, symbol: 'none',
    lineStyle: { color: '#000', width: 1.7 },
    data: truthWeeks.map((w, k) => [weekTime(w), p.truth[k]])
  });
});

// titles, row labels, x labels and the legend
const graphic = [];
function txt(x, y, s, size, align) {
  graphic.push({ type: 'text', z: 100, style: { text: s, x: x, y: y, fill: '#000',
    font: size + 'px ' + FONT, textAlign: align || 'center', textVerticalAlign: 'middle' } });
}
txt(1038, 28, 'RSV ED visits · 2025-2026', 25);
txt(1038, 59, 'Natural-input four-week forecasts; B0.1 calendar, every third saved origin', 25);
txt(colLeft[0] + PW / 2, 100, 'United States', 25);
txt(colLeft[1] + PW / 2, 100, 'North Carolina', 25);
rows.forEach((r, ri) => {
  const cy = rowTop[ri] + PH / 2;
  if (r.label.length === 2) {
    txt(312, cy - 10, r.label[0], 15.2, 'right');
    txt(312, cy + 10, r.label[1], 15.2, 'right');
  } else {
    txt(312, cy + 4, r.label[0], 15.2, 'right');
  }
});
txt(colLeft[0] + PW / 2, 1560, 'Target week ending', 21);
txt(colLeft[1] + PW / 2, 1560, 'Target week ending', 21);

const legendColor = rows[0].color;
graphic.push({ type: 'rect', z: 99, shape: { x: 824, y: 128, width: 352, height: 26, r: 3 },
  style: { fill: 'rgba(255,255,255,0.8)', stroke: '#d4d4d4', lineWidth: 1.2 } });
graphic.push({ type: 'line', z: 100, shape: { x1: 829, y1: 141, x2: 861, y2: 141 },
  style: { stroke: '#000', lineWidth: 1.7 } });
txt(870, 141, 'Frozen truth', 14.5, 'left');
graphic.push({ type: 'rect', z: 100, shape: { x: 992, y: 135.5, width: 29, height: 11 },
  style: { fill: rgba(legendColor, 0.16), stroke: rgba(legendColor, 0.3), lineWidth: 1 } });
txt(1033, 141, '95%', 14.5, 'left');
graphic.push({ type: 'rect', z: 100, shape: { x: 1096, y: 135.5, width: 29, height: 11 },
  style: { fill: 'rgb(176,184,199)', stroke: 'rgb(150,160,180)', lineWidth: 1 } });
txt(1136, 141, '50%', 14.5, 'left');

const chart = echarts.init(document.getElementById('chart'), null, { width: 2077, height: 1586 });
chart.setOption({
  backgroundColor: '#fff',
  animation: false,
  textStyle: { fontFamily: FONT },
  grid: grid,
  xAxis: xAxis,
  yAxis: yAxis,
  series: series,
  graphic: graphic
});
</script>
</body>
</html>
